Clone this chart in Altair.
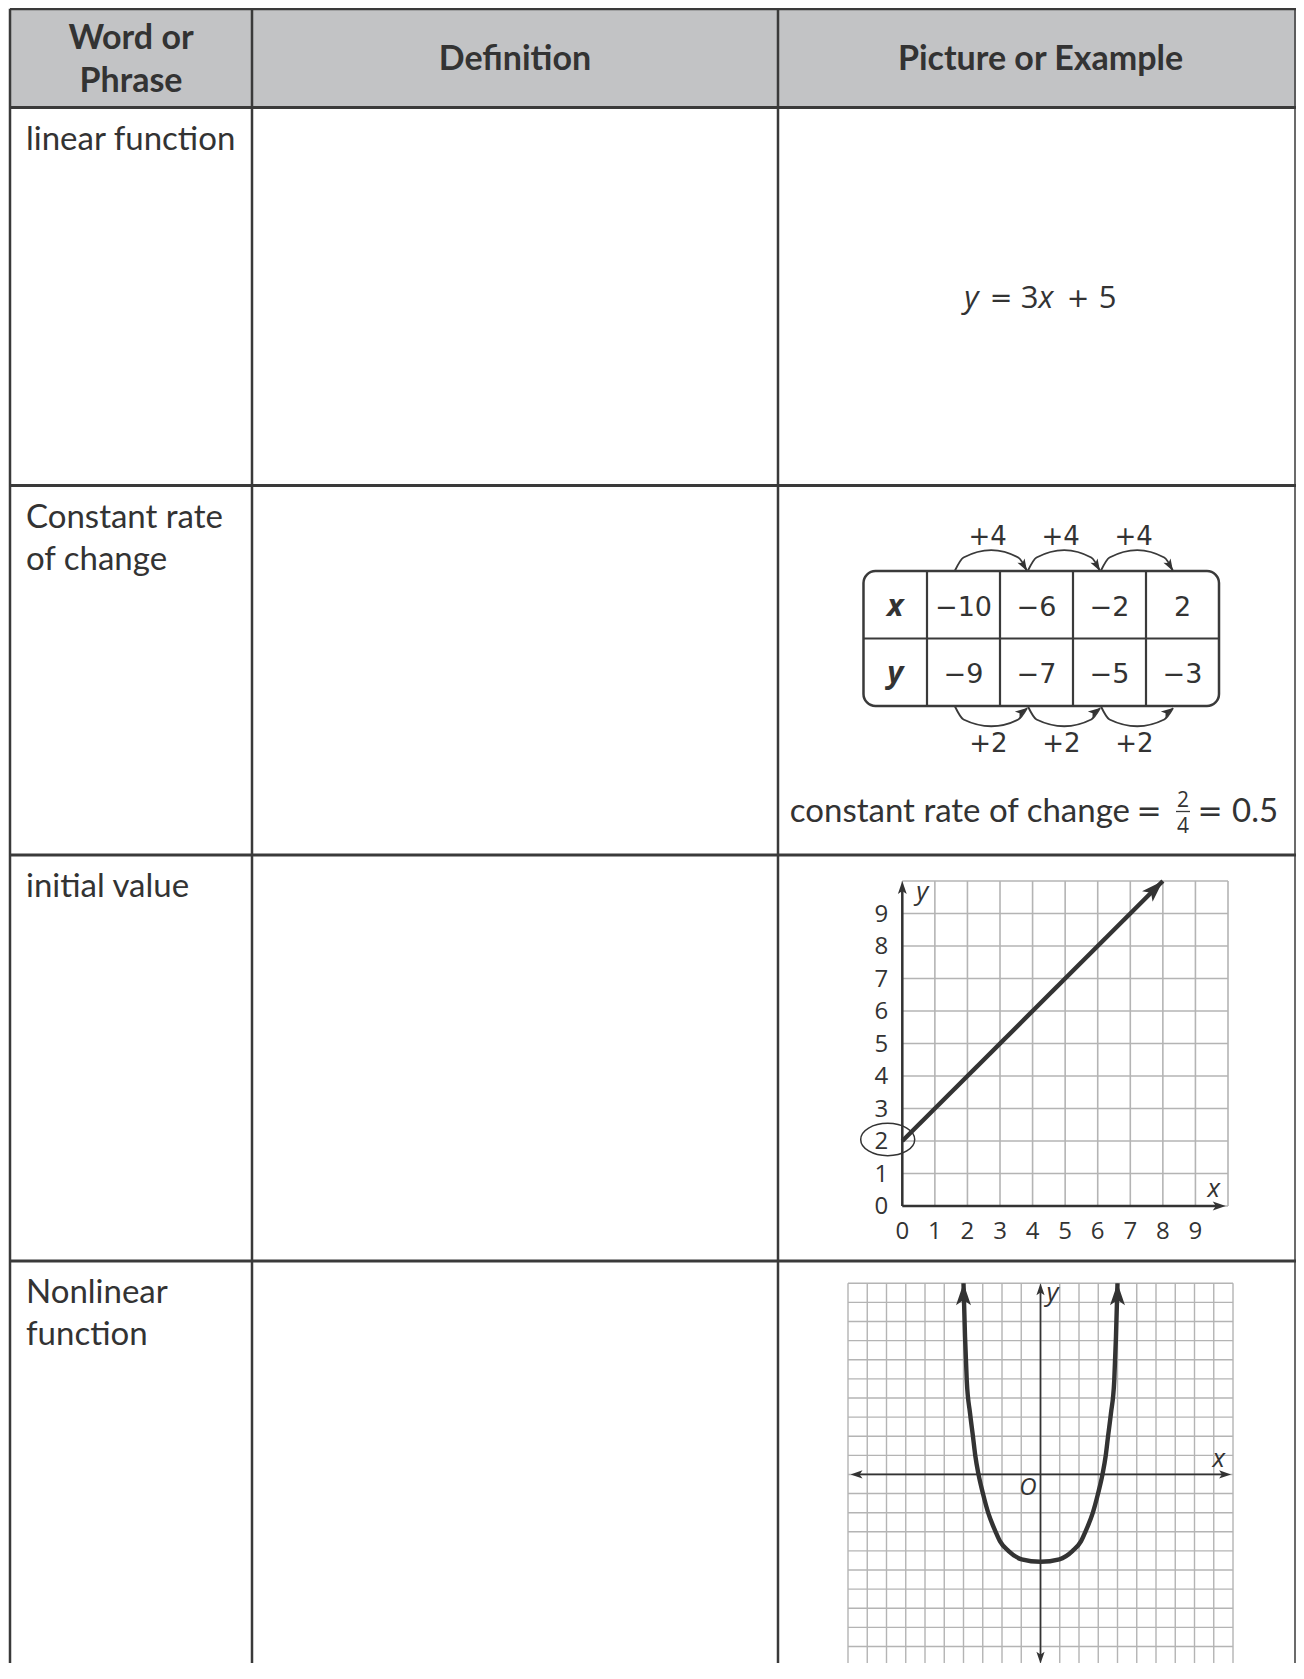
import altair as alt
import pandas as pd

# ------------------------------------------------------------------ data
HEADERS = ["Word or\nPhrase", "Definition", "Picture or Example"]
TERMS = ["linear function", "Constant rate\nof change", "initial value", "Nonlinear\nfunction"]

EQ_PARTS = ["y", "=", "3", "x", "+", "5"]
EQ_STYLE = ["italic", "normal", "normal", "italic", "normal", "normal"]
EQ_KIND = ["text", "op", "text", "text", "op", "text"]

RATE_ROWS = ["x", "y"]
RATE_X = [-10, -6, -2, 2]
RATE_Y = [-9, -7, -5, -3]
RATE_CAPTION = "constant rate of change"
RATE_NUM, RATE_DEN = 2, 4
RATE_RESULT = 0.5

LIN_TICKS = [0, 1, 2, 3, 4, 5, 6, 7, 8, 9]
LIN_GRID = [0, 1, 2, 3, 4, 5, 6, 7, 8, 9, 10]
LIN_LINE_X = [0, 8]
LIN_LINE_Y = [2, 10]
INITIAL_VALUE = 2

PAR_GRID = list(range(-10, 11))
PAR_X = [-4.0, -3.92, -3.83, -3.66, -3.51, -3.39, -3.22, -2.99, -2.72, -2.33, -2.10, -1.67, -0.98, 0.0,
         0.98, 1.67, 2.10, 2.33, 2.72, 2.99, 3.22, 3.39, 3.51, 3.66, 3.83, 3.92, 4.0]
PAR_Y = [10.0, 7.2, 4.9, 3.2, 2.0, 1.0, 0.0, -1.0, -2.0, -3.0, -3.5, -4.0, -4.44, -4.57,
         -4.44, -4.0, -3.5, -3.0, -2.0, -1.0, 0.0, 1.0, 2.0, 3.2, 4.9, 7.2, 10.0]

# ------------------------------------------------------------------ style / layout
FONT = "Lato"
MATH = "Open Sans"
SYM = "DejaVu Sans"
INK = "#333333"
LINE = "#3a3a3a"
GRIDC = "#b4b4b4"
HEAD_FILL = "#c2c3c5"
ARROW = "M0,0 L-0.34,1 L0,0.76 L0.34,1 Z"
ELLIPSE = "M-1,0 A1,0.6,0,1,1,1,0 A1,0.6,0,1,1,-1,0 Z"

W, H = 1288, 1655
M = 8


def sc(lo, hi, p0, p1):
    """linear scale from a data domain onto page pixels"""
    return alt.Scale(domain=[lo, hi], range=[p0 - M, p1 - M], zero=False, nice=False)


PAGE_X = sc(M, M + W, M, M + W)
PAGE_Y = sc(M, M + H, M, M + H)

COL_EDGES = [10, 252, 778, M + W - 1]
COL_W = [2.5, 2.5, 2.5, 1.5]
ROW_EDGES = [8.8, 107.5, 485.5, 855, 1261]
TABLE_RIGHT = M + W
TABLE_BOTTOM = 1720
TERM_PAD_X, TERM_PAD_Y = 16, 42
FS_TERM, FS_HEAD, FS_MATH, FS_TICK = 33, 34, 29, 24
LH = 42

# rate table: columns in unit widths, rows in unit heights
RT_X = sc(0, 4, 927, 1219)
RT_Y = sc(0, 2, 571, 706)
RT_LEFT = -0.87
ARC_X = [0.38, 0.5, 0.88, 1.25, 1.37]
ARC_TOP = [0.0, -0.2, -0.31, -0.2, 0.0]
ARC_BOT = [2.0, 2.2, 2.3, 2.2, 2.03]

LG_X = sc(0, 10, 902.3, 1228)
LG_Y = sc(0, 10, 1206, 881)
PG_X = sc(-10, 10, 848, 1233)
PG_Y = sc(-10, 10, 1665.6, 1283.3)


def fmt(v):
    return f"\u2212{abs(v)}" if v < 0 else f"{v}"


def xy(xs, ys, x="x", y="y"):
    return dict(x=alt.X(f"{x}:Q", scale=xs, axis=None), y=alt.Y(f"{y}:Q", scale=ys, axis=None))


def rules(df, xs, ys, **mk):
    kw = dict(color=LINE)
    kw.update(mk)
    enc = dict(x=alt.X("x1:Q", scale=xs, axis=None), x2="x2:Q",
               y=alt.Y("y1:Q", scale=ys, axis=None), y2="y2:Q")
    if "w" in df.columns:
        enc["strokeWidth"] = alt.StrokeWidth("w:Q", scale=None)
    return alt.Chart(df).mark_rule(**kw).encode(**enc)


def texts(df, xs, ys, **mk):
    kw = dict(font=MATH, color=INK, fontSize=FS_MATH)
    kw.update(mk)
    return alt.Chart(df).mark_text(**kw).encode(text="t:N", **xy(xs, ys))


def arrows(df, xs, ys, length):
    return alt.Chart(df).mark_point(shape=ARROW, filled=True, opacity=1, color=INK,
                                    strokeWidth=0, size=(2 * length) ** 2).encode(
        angle=alt.Angle("a:Q", scale=None), **xy(xs, ys))


layers = []

# ------------------------------------------------------------------ outer table
layers.append(
    alt.Chart(pd.DataFrame({"x1": [COL_EDGES[0]], "x2": [TABLE_RIGHT],
                            "y1": [ROW_EDGES[0]], "y2": [ROW_EDGES[1]]}))
    .mark_rect(color=HEAD_FILL)
    .encode(x=alt.X("x1:Q", scale=PAGE_X, axis=None), x2="x2:Q",
            y=alt.Y("y1:Q", scale=PAGE_Y, axis=None), y2="y2:Q")
)
layers.append(rules(pd.DataFrame({"x1": COL_EDGES, "x2": COL_EDGES,
                                  "y1": [ROW_EDGES[0]] * 4, "y2": [TABLE_BOTTOM] * 4,
                                  "w": COL_W}), PAGE_X, PAGE_Y))
layers.append(rules(pd.DataFrame({"x1": [COL_EDGES[0]] * len(ROW_EDGES),
                                  "x2": [TABLE_RIGHT] * len(ROW_EDGES),
                                  "y1": ROW_EDGES, "y2": ROW_EDGES}), PAGE_X, PAGE_Y,
                    strokeWidth=3))

head_mid = (ROW_EDGES[0] + ROW_EDGES[1]) / 2
cap = 0.72 * FS_HEAD
hdr = pd.DataFrame({
    "t": HEADERS,
    "x": [(COL_EDGES[i] + COL_EDGES[i + 1]) / 2 for i in range(2)] + [(COL_EDGES[2] + 1303) / 2],
    "y": [head_mid - h.count("\n") * LH / 2 + cap / 2 for h in HEADERS],
})
layers.append(texts(hdr, PAGE_X, PAGE_Y, font=FONT, fontSize=FS_HEAD, fontWeight="bold",
                    align="center", baseline="alphabetic", lineBreak="\n", lineHeight=LH + 1))

terms = pd.DataFrame({
    "t": TERMS,
    "x": [COL_EDGES[0] + TERM_PAD_X] * len(TERMS),
    "y": [ROW_EDGES[i + 1] + TERM_PAD_Y for i in range(len(TERMS))],
})
layers.append(texts(terms, PAGE_X, PAGE_Y, font=FONT, fontSize=FS_TERM, align="left",
                    baseline="alphabetic", lineBreak="\n", lineHeight=LH))

# ------------------------------------------------------------------ y = 3x + 5
EQ_CENTER = [971.5, 1001, 1029.5, 1046, 1078, 1107.5]
EQ_BASE = 308
eq = pd.DataFrame({"t": EQ_PARTS, "s": EQ_STYLE, "k": EQ_KIND, "x": EQ_CENTER,
                   "y": [EQ_BASE] * len(EQ_PARTS)})
for style in ["italic", "normal"]:
    layers.append(texts(eq[(eq.s == style) & (eq.k == "text")], PAGE_X, PAGE_Y, fontStyle=style,
                        fontSize=31, align="center", baseline="alphabetic"))
layers.append(texts(eq[eq.k == "op"], PAGE_X, PAGE_Y, font=SYM, fontSize=27,
                    align="center", baseline="alphabetic", dy=-1))

# ------------------------------------------------------------------ rate table
layers.append(
    alt.Chart(pd.DataFrame({"x1": [RT_LEFT], "x2": [len(RATE_X)], "y1": [0], "y2": [2]}))
    .mark_rect(filled=False, stroke=LINE, strokeWidth=2.5, cornerRadius=12)
    .encode(x=alt.X("x1:Q", scale=RT_X, axis=None), x2="x2:Q",
            y=alt.Y("y1:Q", scale=RT_Y, axis=None), y2="y2:Q")
)
ncol = len(RATE_X)
layers.append(rules(pd.DataFrame({"x1": list(range(ncol)), "x2": list(range(ncol)),
                                  "y1": [0] * ncol, "y2": [2] * ncol}), RT_X, RT_Y, strokeWidth=2.2))
layers.append(rules(pd.DataFrame({"x1": [RT_LEFT], "x2": [ncol], "y1": [1], "y2": [1]}),
                    RT_X, RT_Y, strokeWidth=2.2))
layers.append(texts(pd.DataFrame({"t": RATE_ROWS, "x": [RT_LEFT / 2] * 2, "y": [0.5, 1.5]}),
                    RT_X, RT_Y, fontWeight="bold", fontStyle="italic", align="center",
                    baseline="middle", dy=2, fontSize=31))
vals = pd.DataFrame({
    "t": [fmt(v) for v in RATE_X] + [fmt(v) for v in RATE_Y],
    "x": [i + 0.5 for i in range(ncol)] * 2,
    "y": [0.5] * ncol + [1.5] * ncol,
})
layers.append(texts(vals, RT_X, RT_Y, font=SYM, align="center", baseline="middle", dy=3, fontSize=27))

arc_rows, tips, steps = [], [], []
for k in range(ncol - 1):
    for side, ys_, ang in (("t", ARC_TOP, 150), ("b", ARC_BOT, 55)):
        for i, (ax, ay) in enumerate(zip(ARC_X, ys_)):
            arc_rows.append({"arc": f"{side}{k}", "i": i, "x": k + ax, "y": ay})
        tips.append({"x": k + ARC_X[-1], "y": ys_[-1], "a": ang})
    steps.append({"t": f"+{RATE_X[k + 1] - RATE_X[k]}", "x": k + 0.83, "y": -0.53})
    steps.append({"t": f"+{RATE_Y[k + 1] - RATE_Y[k]}", "x": k + 0.84, "y": 2.53})
layers.append(
    alt.Chart(pd.DataFrame(arc_rows)).mark_line(color=LINE, strokeWidth=1.9, interpolate="monotone")
    .encode(detail="arc:N", order="i:Q", **xy(RT_X, RT_Y))
)
layers.append(arrows(pd.DataFrame(tips), RT_X, RT_Y, 12))
layers.append(texts(pd.DataFrame(steps), RT_X, RT_Y, font=SYM, fontSize=26,
                    align="center", baseline="middle", dy=2))

CAP_RIGHT, CAP_BASE, EQ1_X, FRAC_X, EQ2_X, RES_LEFT = 1130, 822, 1149, 1183, 1210, 1232
layers.append(texts(pd.DataFrame({"t": [RATE_CAPTION], "x": [CAP_RIGHT], "y": [CAP_BASE]}),
                    PAGE_X, PAGE_Y, font=FONT, align="right", baseline="alphabetic", fontSize=33))
layers.append(texts(pd.DataFrame({"t": ["=", "="], "x": [EQ1_X, EQ2_X], "y": [CAP_BASE] * 2}),
                    PAGE_X, PAGE_Y, font=SYM, align="center", baseline="alphabetic", fontSize=30, dy=-1))
layers.append(texts(pd.DataFrame({"t": [f"{RATE_RESULT}"], "x": [RES_LEFT], "y": [CAP_BASE]}),
                    PAGE_X, PAGE_Y, font=FONT, align="left", baseline="alphabetic", fontSize=33))
layers.append(texts(pd.DataFrame({"t": [str(RATE_NUM), str(RATE_DEN)], "x": [FRAC_X] * 2,
                                  "y": [806.5, 833]}),
                    PAGE_X, PAGE_Y, align="center", baseline="alphabetic", fontSize=21))
layers.append(rules(pd.DataFrame({"x1": [FRAC_X - 7], "x2": [FRAC_X + 7], "y1": [811.5], "y2": [811.5]}),
                    PAGE_X, PAGE_Y, strokeWidth=1.3))

# ------------------------------------------------------------------ linear graph
g0, g1 = LIN_GRID[0], LIN_GRID[-1]
n = len(LIN_GRID)
layers.append(rules(pd.DataFrame({"x1": LIN_GRID, "x2": LIN_GRID, "y1": [g0] * n, "y2": [g1] * n}),
                    LG_X, LG_Y, color=GRIDC, strokeWidth=1.6))
layers.append(rules(pd.DataFrame({"x1": [g0] * n, "x2": [g1] * n, "y1": LIN_GRID, "y2": LIN_GRID}),
                    LG_X, LG_Y, color=GRIDC, strokeWidth=1.6))
layers.append(rules(pd.DataFrame({"x1": [0, 0], "x2": [0, 9.75], "y1": [0, 0], "y2": [9.8, 0]}),
                    LG_X, LG_Y, color=INK, strokeWidth=2.5))
layers.append(arrows(pd.DataFrame({"x": [0, 9.93], "y": [10, 0], "a": [0, 90]}), LG_X, LG_Y, 13))
layers.append(
    alt.Chart(pd.DataFrame({"x": LIN_LINE_X, "y": LIN_LINE_Y}))
    .mark_line(color=INK, strokeWidth=4.4).encode(**xy(LG_X, LG_Y))
)
layers.append(arrows(pd.DataFrame({"x": [LIN_LINE_X[-1]], "y": [LIN_LINE_Y[-1]], "a": [45]}),
                     LG_X, LG_Y, 22))
layers.append(texts(pd.DataFrame({"t": [str(v) for v in LIN_TICKS], "x": [0] * len(LIN_TICKS),
                                  "y": LIN_TICKS}),
                    LG_X, LG_Y, align="right", baseline="middle", dx=-14, dy=1, fontSize=FS_TICK))
layers.append(texts(pd.DataFrame({"t": [str(v) for v in LIN_TICKS], "x": LIN_TICKS,
                                  "y": [0] * len(LIN_TICKS)}),
                    LG_X, LG_Y, align="center", baseline="middle", dy=26, fontSize=FS_TICK))
layers.append(
    alt.Chart(pd.DataFrame({"x": [0], "y": [INITIAL_VALUE]}))
    .mark_point(shape=ELLIPSE, filled=False, opacity=1, color=INK, strokeWidth=1.5,
                size=54 ** 2, xOffset=-14.6, yOffset=-1.5)
    .encode(**xy(LG_X, LG_Y))
)
layers.append(texts(pd.DataFrame({"t": ["y"], "x": [0], "y": [10]}), LG_X, LG_Y,
                    fontStyle="italic", align="left", baseline="alphabetic", dx=14, dy=19, fontSize=26))
layers.append(texts(pd.DataFrame({"t": ["x"], "x": [10], "y": [0]}), LG_X, LG_Y,
                    fontStyle="italic", align="right", baseline="alphabetic", dx=-8, dy=-9, fontSize=26))

# ------------------------------------------------------------------ nonlinear graph
p0, p1 = PAR_GRID[0], PAR_GRID[-1]
m = len(PAR_GRID)
layers.append(rules(pd.DataFrame({"x1": PAR_GRID, "x2": PAR_GRID, "y1": [p0] * m, "y2": [p1] * m}),
                    PG_X, PG_Y, color=GRIDC, strokeWidth=1.4))
layers.append(rules(pd.DataFrame({"x1": [p0] * m, "x2": [p1] * m, "y1": PAR_GRID, "y2": PAR_GRID}),
                    PG_X, PG_Y, color=GRIDC, strokeWidth=1.4))
layers.append(rules(pd.DataFrame({"x1": [-9.6, 0], "x2": [9.6, 0], "y1": [0, -9.6], "y2": [0, 9.7]}),
                    PG_X, PG_Y, color=INK, strokeWidth=1.7))
layers.append(arrows(pd.DataFrame({"x": [-9.87, 9.9, 0, 0], "y": [0, 0, 10, -9.9],
                                   "a": [270, 90, 0, 180]}), PG_X, PG_Y, 12))
layers.append(
    alt.Chart(pd.DataFrame({"x": PAR_X, "y": PAR_Y, "i": list(range(len(PAR_X)))}))
    .mark_line(color=INK, strokeWidth=4.4, interpolate="monotone")
    .encode(order="i:Q", **xy(PG_X, PG_Y))
)
layers.append(arrows(pd.DataFrame({"x": [PAR_X[0], PAR_X[-1]], "y": [PAR_Y[0], PAR_Y[-1]],
                                   "a": [0, 0]}), PG_X, PG_Y, 22))
layers.append(texts(pd.DataFrame({"t": ["y"], "x": [0], "y": [10]}), PG_X, PG_Y,
                    fontStyle="italic", align="left", baseline="alphabetic", dx=6, dy=18, fontSize=26))
layers.append(texts(pd.DataFrame({"t": ["x"], "x": [10], "y": [0]}), PG_X, PG_Y,
                    fontStyle="italic", align="right", baseline="alphabetic", dx=-8, dy=-7, fontSize=26))
layers.append(texts(pd.DataFrame({"t": ["O"], "x": [0], "y": [0]}), PG_X, PG_Y,
                    fontStyle="italic", align="right", baseline="alphabetic", dx=-4, dy=21, fontSize=24))

chart = (
    alt.layer(*layers)
    .resolve_scale(x="independent", y="independent")
    .properties(width=W, height=H, padding=0, autosize=alt.AutoSizeParams(type="none"),
                background="white")
    .configure_view(stroke=None)
)

chart.save("out.html", embed_options={"renderer": "svg", "actions": False})
